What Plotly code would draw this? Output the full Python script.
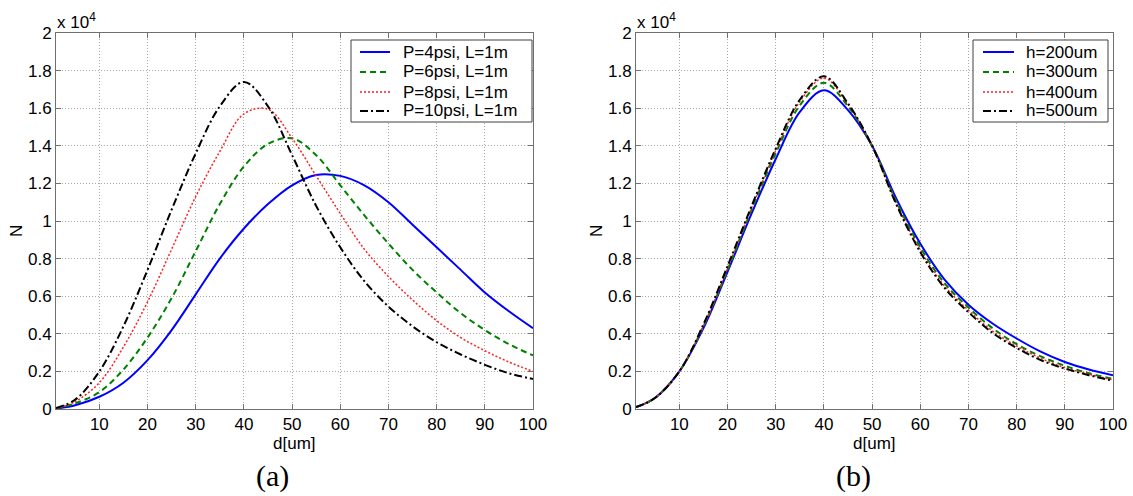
import plotly.graph_objects as go

# droplet diameter grid [um]
d = [1, 5, 10, 15, 20, 25, 30, 35, 40, 45, 50, 55, 60, 65, 70, 75, 80, 85, 90, 95, 100]

# (a) size distribution for different supply pressures, L = 1 m
n_p4 = [20, 200, 650, 1400, 2600, 4200, 6100, 8000, 9600, 10900, 11900, 12450, 12400, 11900, 11000, 9800, 8600, 7400, 6200, 5200, 4300]
n_p6 = [30, 300, 900, 2100, 3800, 5900, 8400, 10900, 12900, 14100, 14400, 13500, 11900, 10300, 8800, 7400, 6200, 5100, 4200, 3450, 2850]
n_p8 = [30, 400, 1400, 3300, 5700, 8500, 11300, 13700, 15700, 15950, 14400, 12400, 10400, 8500, 7050, 5800, 4700, 3800, 3100, 2500, 2000]
n_p10 = [50, 500, 2000, 4400, 7400, 10600, 13600, 16100, 17400, 16100, 13500, 10800, 8600, 6800, 5450, 4400, 3550, 2900, 2350, 1900, 1600]

# (b) size distribution for different channel heights
n_h200 = [100, 600, 2000, 4300, 7300, 10400, 13300, 15800, 16950, 15900, 14000, 11200, 8800, 6900, 5550, 4550, 3750, 3050, 2500, 2100, 1800]
n_h300 = [100, 600, 2000, 4400, 7400, 10600, 13600, 16150, 17350, 16100, 14000, 11050, 8600, 6700, 5400, 4300, 3450, 2800, 2300, 1900, 1600]
n_h400 = [100, 600, 2000, 4400, 7500, 10700, 13750, 16350, 17600, 16200, 14000, 10950, 8450, 6550, 5250, 4150, 3350, 2700, 2200, 1850, 1550]
n_h500 = [100, 600, 2000, 4500, 7600, 10800, 13850, 16450, 17700, 16250, 14000, 10900, 8350, 6450, 5150, 4050, 3250, 2600, 2150, 1800, 1500]

labels_a = ["P=4psi, L=1m", "P=6psi, L=1m", "P=8psi, L=1m", "P=10psi, L=1m"]
labels_b = ["h=200um", "h=300um", "h=400um", "h=500um"]

x_ticks = [10, 20, 30, 40, 50, 60, 70, 80, 90, 100]
y_ticks = [0, 0.2, 0.4, 0.6, 0.8, 1, 1.2, 1.4, 1.6, 1.8, 2]
SCALE = 1e4

styles = [
    dict(color="#0000ff", width=2, dash="solid"),
    dict(color="#008000", width=2, dash="6px,4px"),
    dict(color="#ff2020", width=1.5, dash="2px,2px"),
    dict(color="#000000", width=2, dash="8px,3px,2px,3px"),
]

W, H = 1133, 496
px = lambda v: v / W
py = lambda v: 1 - v / H

fig = go.Figure()

for series, name, st in zip([n_p4, n_p6, n_p8, n_p10], labels_a, styles):
    fig.add_trace(go.Scatter(x=d, y=[v / SCALE for v in series], mode="lines", name=name,
                             line=dict(shape="spline", smoothing=1.0, **st),
                             xaxis="x", yaxis="y", showlegend=False))

for series, name, st in zip([n_h200, n_h300, n_h400, n_h500], labels_b, styles):
    fig.add_trace(go.Scatter(x=d, y=[v / SCALE for v in series], mode="lines", name=name,
                             line=dict(shape="spline", smoothing=1.0, **st),
                             xaxis="x2", yaxis="y2", showlegend=False))

font = dict(family="Liberation Sans, Arial, sans-serif", size=17, color="#000000")
frame = "#707070"

axis_common = dict(
    showline=True, linecolor=frame, linewidth=1, mirror="ticks",
    ticks="inside", ticklen=5, tickcolor=frame,
    showgrid=True, gridcolor="#a8a8a8", griddash="1px,2px", gridwidth=1,
    zeroline=False, tickfont=font, automargin=False,
)

fig.update_layout(
    width=W, height=H,
    margin=dict(l=0, r=0, t=0, b=0),
    paper_bgcolor="white", plot_bgcolor="white",
    font=font,
    xaxis=dict(domain=[px(56), px(533)], range=[1, 100], tickvals=x_ticks, anchor="y", **axis_common),
    yaxis=dict(domain=[1 - 409 / H, 1 - 33 / H], range=[0, 2], tickvals=y_ticks,
               ticktext=[f"{v:g}" for v in y_ticks], anchor="x", **axis_common),
    xaxis2=dict(domain=[px(636), px(1113)], range=[1, 100], tickvals=x_ticks, anchor="y2", **axis_common),
    yaxis2=dict(domain=[1 - 409 / H, 1 - 33 / H], range=[0, 2], tickvals=y_ticks,
                ticktext=[f"{v:g}" for v in y_ticks], anchor="x2", **axis_common),
    showlegend=False,
)

annotations = []
shapes = []


def label(x, y, text, xanchor="center", **kw):
    annotations.append(dict(x=px(x), y=py(y), xref="paper", yref="paper", text=text,
                            showarrow=False, xanchor=xanchor, yanchor="middle", **kw))


# axis decorations for both panels
for x_left, x_mid, tag_x, tag in [(56, 294, 272, "(a)"), (636, 874, 853, "(b)")]:
    label(x_left - 1, 21, "x 10<sup>4</sup>", xanchor="left", font=font)
    label(x_left - 40, 231, "N", textangle=-90, font=font)
    label(x_mid, 443, "d[um]", font=font)
    label(tag_x, 476, tag, font=dict(family="Liberation Serif, Times New Roman, serif",
                                     size=30, color="#000000"))

# legend boxes: (box left, box right, sample start, sample end, text left, labels)
legend_specs = [
    (351, 532, 360, 390, 401, labels_a),
    (973, 1108, 983, 1014, 1024, labels_b),
]
entry_y = [52, 72, 92, 111]
for bx0, bx1, sx0, sx1, tx, labels in legend_specs:
    shapes.append(dict(type="rect", xref="paper", yref="paper",
                       x0=px(bx0), x1=px(bx1), y0=py(40), y1=py(122),
                       line=dict(color="#404040", width=1), fillcolor="white", layer="above"))
    for yy, lab, st in zip(entry_y, labels, styles):
        shapes.append(dict(type="line", xref="paper", yref="paper",
                           x0=px(sx0), x1=px(sx1), y0=py(yy), y1=py(yy),
                           line=dict(color=st["color"], width=st["width"], dash=st["dash"]),
                           layer="above"))
        label(tx, yy, lab, xanchor="left", font=font)

fig.update_layout(annotations=annotations, shapes=shapes)

fig.write_html("out.html")
